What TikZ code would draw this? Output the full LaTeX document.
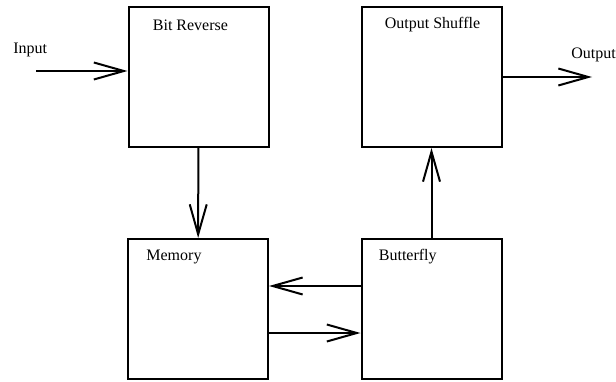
\documentclass[tikz,border=0pt]{standalone}
\usepackage{fontspec}
\setmainfont{Liberation Serif}
\usetikzlibrary{arrows.meta}

\tikzset{
    block/.style={draw, line width=1pt, inner sep=0pt, minimum width=70pt, minimum height=70pt},
    flow/.style={line width=1pt, -{Straight Barb[length=15pt, width=8.5pt, line width=1pt]}},
    title/.style={anchor=west, inner sep=0pt, font=\fontsize{8}{9.6}\selectfont}
}

\begin{document}
\begin{tikzpicture}[x=0.5pt, y=0.5pt]
        \useasboundingbox (0,0) rectangle (616,381);
        \node[block] (rev) at (198.5,304) {};
        \node[block] (shuf) at (431.5,304) {};
        \node[block] (mem) at (198,72) {};
        \node[block] (bfly) at (431.5,72) {};
        \node[title] (revtxt) at ([shift={(25,-19)}]rev.north west) {Bit Reverse};
        \node[title] (shuftxt) at ([shift={(24,-19)}]shuf.north west) {Output Shuffle};
        \node[title] (memtxt) at ([shift={(19,-19)}]mem.north west) {Memory};
        \node[title] (bflytxt) at ([shift={(18,-19)}]bfly.north west) {Butterfly};
        \node[title] (input) at (13,331) {Input};
        \node[title] (output) at (571,326) {Output};
        \coordinate (in) at (36,310);
        \coordinate (out) at (592,304);
        % data path through the blocks
        \draw[flow] (in) -- (in -| rev.west);
        \draw[flow] (rev) -- (mem);
        \draw[flow] ([yshift=-12pt]mem.east) -- ([yshift=-12pt]bfly.west);
        \draw[flow] ([yshift=11.5pt]bfly.west) -- ([yshift=11.5pt]mem.east);
        \draw[flow] (bfly) -- (shuf);
        \draw[flow] (shuf.east) -- (out);
    \end{tikzpicture}
\end{document}
